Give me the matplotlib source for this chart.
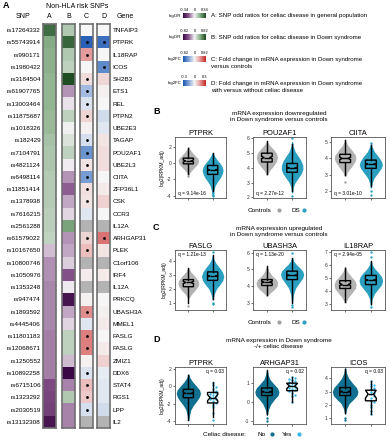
import numpy as np
import matplotlib
matplotlib.use("Agg")
import matplotlib.pyplot as plt
from matplotlib.colors import LinearSegmentedColormap

plt.rcParams["font.family"] = ["Liberation Sans", "DejaVu Sans"]

# ---------------- heatmap data (panel A) ----------------
snps = ["rs17264332", "rs55743914", "rs990171", "rs1980422", "rs3184504", "rs61907765",
        "rs13003464", "rs11875687", "rs1018326", "rs182429", "rs7104791", "rs4821124",
        "rs6498114", "rs11851414", "rs1378938", "rs7616215", "rs2561288", "rs61579022",
        "rs10167650", "rs10800746", "rs1050976", "rs1353248", "rs947474", "rs1893592",
        "rs4445406", "rs11801183", "rs12068671", "rs1250552", "rs10892258", "rs6715106",
        "rs1323292", "rs2030519", "rs13132308"]
genes = ["TNFAIP3", "PTPRK", "IL18RAP", "ICOS", "SH2B3", "ETS1", "REL", "PTPN2", "UBE2E3",
         "TAGAP", "POU2AF1", "UBE2L3", "CIITA", "ZFP36L1", "CSK", "CCR3", "IL12A", "ARHGAP31",
         "PLEK", "C1orf106", "IRF4", "IL12A", "PRKCQ", "UBASH3A", "MMEL1", "FASLG", "FASLG",
         "ZMIZ1", "DDX6", "STAT4", "RGS1", "LPP", "IL2"]
logor_general = [0.28, 0.17, 0.16, 0.16, 0.15, 0.15, 0.15, 0.14, 0.14, 0.12, 0.11, 0.11,
                 0.10, 0.10, 0.10, 0.09, 0.09, 0.08, -0.06, -0.11, -0.11, -0.12, -0.12, -0.12,
                 -0.12, -0.13, -0.13, -0.13, -0.13, -0.20, -0.21, -0.22, -0.31]
logor_ds = [0.25, 0.70, 0.25, 0.20, 0.80, -0.25, -0.05, 0.20, 0.02, 0.10, 0.20, -0.02,
            -0.25, -0.40, -0.20, -0.08, 0.45, -0.25, -0.20, -0.10, -0.45, -0.03, -0.75, -0.20,
            -0.08, 0.20, 0.20, -0.15, -0.82, -0.30, 0.25, -0.30, -0.30]
nan = float("nan")
fc_ds_vs_ctrl = [0.0, -0.75, 0.40, 0.0, 0.12, -0.30, -0.10, 0.15, 0.02, -0.12, -0.50, 0.08,
                 -0.45, 0.10, 0.08, -0.08, nan, 0.15, 0.25, nan, 0.05, nan, 0.03, 0.45,
                 -0.08, 0.50, 0.50, 0.02, -0.10, 0.25, 0.20, -0.12, nan]
fc_ds_celiac = [0.0, -0.25, 0.0, -0.20, 0.05, 0.01, 0.0, -0.05, -0.03, 0.03, 0.04, 0.04,
                0.0, 0.02, 0.06, 0.0, nan, 0.20, 0.03, nan, 0.02, nan, 0.0, 0.01,
                0.02, 0.0, 0.02, 0.06, -0.02, -0.03, -0.03, -0.05, nan]
sig_c = [1, 2, 4, 5, 6, 7, 9, 10, 11, 12, 13, 14, 17, 18, 23, 25, 26, 28, 29, 30, 31]
sig_d = [1, 3, 17]

# ---------------- violin/box data (panels B-D) ----------------
# cloud levels + half widths, box = (q1, med, q3, low, high, notch_lo, notch_hi), extra points
ptprk_ctrl = dict(y=[-1.5, -1.1, -0.7, -0.3, 0.0, 0.3, 0.6, 0.9, 1.3, 1.7, 2.0],
                  w=[0.02, 0.08, 0.20, 0.33, 0.40, 0.42, 0.38, 0.28, 0.16, 0.06, 0.02],
                  box=[-0.1, 0.25, 0.6, -1.3, 1.9, 0.12, 0.38], pts=[-1.6])
ptprk_ds = dict(y=[-4.0, -3.4, -2.8, -2.3, -1.8, -1.3, -0.9, -0.5, -0.1, 0.4, 0.9, 1.3],
                w=[0.02, 0.05, 0.10, 0.20, 0.32, 0.40, 0.43, 0.40, 0.32, 0.18, 0.07, 0.02],
                box=[-1.4, -0.85, -0.3, -3.4, 1.2, -0.93, -0.77], pts=[-3.7, -3.9, -4.05])
pou2af1_ctrl = dict(y=[3.5, 3.8, 4.1, 4.4, 4.7, 5.0, 5.3, 5.6, 5.8],
                    w=[0.02, 0.10, 0.25, 0.37, 0.42, 0.38, 0.24, 0.08, 0.02],
                    box=[4.4, 4.7, 5.0, 3.6, 5.8, 4.62, 4.78], pts=[])
pou2af1_ds = dict(y=[2.3, 2.7, 3.0, 3.3, 3.6, 3.9, 4.2, 4.5, 4.8, 5.1, 5.5, 5.8],
                  w=[0.02, 0.05, 0.12, 0.24, 0.36, 0.43, 0.42, 0.35, 0.24, 0.12, 0.04, 0.02],
                  box=[3.7, 4.0, 4.3, 2.4, 5.6, 3.96, 4.04], pts=[2.1, 6.0])
ciita_ctrl = dict(y=[2.9, 3.2, 3.5, 3.8, 4.0, 4.2, 4.5, 4.8, 5.1],
                  w=[0.02, 0.10, 0.25, 0.38, 0.42, 0.40, 0.26, 0.10, 0.02],
                  box=[3.75, 4.0, 4.25, 3.0, 5.1, 3.93, 4.07], pts=[2.6])
ciita_ds = dict(y=[2.2, 2.5, 2.8, 3.1, 3.4, 3.6, 3.8, 4.1, 4.4, 4.7, 4.9],
                w=[0.02, 0.05, 0.12, 0.26, 0.40, 0.45, 0.42, 0.30, 0.14, 0.05, 0.02],
                box=[3.4, 3.65, 3.9, 2.3, 4.8, 3.61, 3.69], pts=[2.0, 1.8, 4.95])
faslg_ctrl = dict(y=[1.3, 1.6, 1.9, 2.2, 2.4, 2.6, 2.9, 3.2, 3.5],
                  w=[0.02, 0.12, 0.28, 0.40, 0.43, 0.40, 0.26, 0.10, 0.02],
                  box=[2.15, 2.45, 2.65, 1.0, 3.5, 2.37, 2.53], pts=[0.8])
faslg_ds = dict(y=[1.2, 1.6, 2.0, 2.3, 2.6, 2.9, 3.2, 3.5, 3.8, 4.1, 4.4],
                w=[0.02, 0.06, 0.16, 0.30, 0.42, 0.46, 0.40, 0.28, 0.14, 0.05, 0.02],
                box=[2.6, 2.9, 3.2, 1.3, 4.4, 2.86, 2.94], pts=[1.0, 0.9, 4.6])
ubash3a_ctrl = dict(y=[3.4, 3.6, 3.8, 4.0, 4.2, 4.4, 4.6, 4.9, 5.2],
                    w=[0.02, 0.12, 0.28, 0.40, 0.43, 0.38, 0.22, 0.08, 0.02],
                    box=[4.05, 4.25, 4.4, 3.5, 5.2, 4.19, 4.31], pts=[])
ubash3a_ds = dict(y=[3.0, 3.5, 3.9, 4.2, 4.5, 4.7, 4.9, 5.1, 5.3, 5.5, 5.7],
                  w=[0.02, 0.05, 0.14, 0.28, 0.42, 0.46, 0.42, 0.30, 0.16, 0.06, 0.02],
                  box=[4.4, 4.65, 4.9, 3.0, 5.7, 4.62, 4.68], pts=[2.9, 2.8, 6.0])
il18rap_ctrl = dict(y=[3.1, 3.5, 3.9, 4.2, 4.5, 4.8, 5.1, 5.5, 5.9],
                    w=[0.02, 0.12, 0.28, 0.40, 0.43, 0.38, 0.24, 0.08, 0.02],
                    box=[4.2, 4.5, 4.8, 3.2, 5.8, 4.42, 4.58], pts=[])
il18rap_ds = dict(y=[2.9, 3.4, 3.8, 4.2, 4.5, 4.8, 5.1, 5.4, 5.7, 6.0, 6.3],
                  w=[0.02, 0.05, 0.14, 0.30, 0.42, 0.46, 0.42, 0.30, 0.16, 0.06, 0.02],
                  box=[4.5, 4.85, 5.2, 3.0, 6.3, 4.8, 4.9], pts=[2.8, 6.6, 7.0])
ptprk_no = dict(y=[-3.9, -3.3, -2.7, -2.2, -1.7, -1.2, -0.8, -0.4, 0.0, 0.5, 1.0, 1.4],
                w=[0.02, 0.05, 0.10, 0.20, 0.34, 0.46, 0.50, 0.46, 0.34, 0.18, 0.06, 0.02],
                box=[-1.3, -0.8, -0.35, -3.8, 1.3, -0.88, -0.72], pts=[])
ptprk_yes = dict(box=[-1.9, -1.3, -0.7, -3.5, 0.5, -1.65, -0.95],
                 pts=[0.4, 0.1, -0.1, -0.3, -0.5, -0.7, -0.8, -0.9, -1.0, -1.1, -1.2, -1.3,
                      -1.4, -1.5, -1.7, -1.9, -2.1, -2.4, -3.0, -3.8])
arhgap31_no = dict(y=[-0.7, -0.4, -0.1, 0.15, 0.35, 0.55, 0.75, 0.95, 1.2, 1.45, 1.7],
                   w=[0.02, 0.06, 0.16, 0.30, 0.44, 0.48, 0.42, 0.28, 0.12, 0.05, 0.02],
                   box=[0.35, 0.55, 0.75, -0.6, 1.7, 0.52, 0.58], pts=[-0.85, -1.0])
arhgap31_yes = dict(box=[0.6, 0.85, 1.0, 0.0, 1.3, 0.72, 0.98],
                    pts=[1.3, 1.25, 1.2, 1.15, 1.1, 1.05, 1.0, 0.95, 0.9, 0.85, 0.8, 0.75,
                         0.7, 0.65, 0.6, 0.5, 0.4, 0.3, 0.0])
icos_no = dict(y=[1.3, 1.7, 2.1, 2.4, 2.7, 3.0, 3.3, 3.6, 4.0, 4.4, 4.8],
               w=[0.02, 0.06, 0.16, 0.32, 0.46, 0.50, 0.44, 0.30, 0.14, 0.05, 0.02],
               box=[2.7, 3.0, 3.3, 1.4, 4.7, 2.95, 3.05], pts=[1.0, 0.85])
icos_yes = dict(box=[2.3, 2.8, 3.1, 1.3, 3.8, 2.5, 3.1],
                pts=[3.8, 3.6, 3.5, 3.4, 3.3, 3.2, 3.1, 3.0, 2.9, 2.8, 2.7, 2.5, 2.3, 2.2,
                     2.0, 1.8, 1.5, 1.3])

GRAY = "#a0a0a0"
DS = "#2a9fc0"
NO = "#11708f"
YES = "#36b7e8"

W, H = 390, 440
fig = plt.figure(figsize=(W / 100, H / 100), dpi=100)


def px_axes(x0, y0, w, h):
    return fig.add_axes([x0 / W, 1 - (y0 + h) / H, w / W, h / H])


def ftext(x, y, s, **kw):
    fig.text(x / W, 1 - y / H, s, **kw)


# ---------------- panel A heatmap ----------------
cmap_or = LinearSegmentedColormap.from_list(
    "or", ["#3a0844", "#8b5a8f", "#f6f4f6", "#86ad86", "#1c4a20"])
cmap_fc = LinearSegmentedColormap.from_list(
    "fc", ["#1a55b0", "#84a6d8", "#f7f7f7", "#e49a9a", "#c62828"])
cmap_or.set_bad("#b3b3b3")
cmap_fc.set_bad("#b3b3b3")

top, n = 24, len(snps)
row_h = 12.24
columns = [("A", 43, logor_general, cmap_or, 0.34, []),
           ("B", 62, logor_ds, cmap_or, 0.82, []),
           ("C", 80, fc_ds_vs_ctrl, cmap_fc, 0.82, sig_c),
           ("D", 97, fc_ds_celiac, cmap_fc, 0.3, sig_d)]
for i, (letter, x0, vals, cmap, lim, sig) in enumerate(columns):
    ax = px_axes(x0, top, 13, row_h * n)
    arr = np.ma.masked_invalid(np.array(vals, dtype=float)[:, None])
    ax.imshow(arr, cmap=cmap, vmin=-lim, vmax=lim, aspect="auto", interpolation="nearest")
    if sig:
        ax.plot(np.zeros(len(sig)), sig, "o", color="black", ms=1.0)
    ax.set_xlim(-0.5, 0.5)
    ax.set_ylim(n - 0.5, -0.5)
    ax.set_xticks([])
    ax.set_title(letter, fontsize=5, pad=4)
    for s in ax.spines.values():
        s.set_color("#707070")
        s.set_linewidth(1.2)
    if i == 0:
        ax.set_yticks(range(n))
        ax.set_yticklabels(snps, fontsize=4.6)
        ax.tick_params(axis="y", length=0, pad=1.6)
    elif i == 3:
        ax.yaxis.tick_right()
        ax.set_yticks(range(n))
        ax.set_yticklabels(genes, fontsize=4.6)
        ax.tick_params(axis="y", length=0, pad=1.8)
    else:
        ax.set_yticks([])

fig.text(0.008, 1 - 6 / H, "A", fontsize=6.5, fontweight="bold", va="center")
ftext(77, 6, "Non-HLA risk SNPs", fontsize=5, ha="center", va="center")
ftext(23, 17, "SNP", fontsize=5, ha="center", va="center")
ftext(125, 17, "Gene", fontsize=5, ha="center", va="center")

# ---------------- colour legends ----------------
legend_rows = [(15.5, "logOR", cmap_or, "-0.34", "0.34",
                ["A: SNP odd ratios for celiac disease in general population"]),
               (37, "logOR", cmap_or, "-0.82", "0.82",
                ["B: SNP odd ratios for celiac disease in Down syndrome"]),
               (59, "log2FC", cmap_fc, "-0.82", "0.82",
                ["C: Fold change in mRNA expression in Down syndrome", "versus controls"]),
               (83, "log2FC", cmap_fc, "-0.3", "0.3",
                ["D: Fold change in mRNA expression in Down syndrome",
                 "with versus without celiac disease"])]
for yc, lab, cmap, lo, hi, lines in legend_rows:
    cax = px_axes(183, yc - 2.7, 23, 5.4)
    cax.imshow(np.linspace(-1, 1, 64)[None, :], cmap=cmap, aspect="auto")
    cax.axis("off")
    ftext(181.5, yc, lab, fontsize=3.2, ha="right", va="center")
    ftext(184, yc - 5.5, lo, fontsize=2.9, ha="center", va="center")
    ftext(194.5, yc - 5.5, "0", fontsize=2.9, ha="center", va="center")
    ftext(205, yc - 5.5, hi, fontsize=2.9, ha="center", va="center")
    for k, line in enumerate(lines):
        ftext(211, yc + 7 * k, line, fontsize=4.45, ha="left", va="center")


# ---------------- panels B-D ----------------
def swarm(values, px_per_y, px_per_x, dot=2.6):
    placed, offs = [], []
    for v in values:
        yp = v * px_per_y
        k = 0
        while True:
            cands = [0.0] if k == 0 else [k * dot * 0.6, -k * dot * 0.6]
            ok = None
            for c in cands:
                if all((c - a) ** 2 + (yp - b) ** 2 >= dot ** 2 for a, b in placed):
                    ok = c
                    break
            if ok is not None:
                placed.append((ok, yp))
                offs.append(ok / px_per_x)
                break
            k += 1
    return np.array(offs)


def draw_group(ax, pos, grp, color, px_per_y, px_per_x, alpha=1.0):
    if "y" in grp:
        y = np.array(grp["y"])
        w = np.array(grp["w"])
        ax.fill_betweenx(y, pos - w, pos + w, color=color, alpha=alpha, lw=0, zorder=1)
    pts = grp["pts"]
    if pts:
        off = swarm(pts, px_per_y, px_per_x) if "y" not in grp else np.zeros(len(pts))
        ax.plot(pos + off, pts, "o", color=color, ms=1.7, mew=0, zorder=2)
    q1, med, q3, lo, hi, cil, cih = grp["box"]
    stats = [dict(med=med, q1=q1, q3=q3, whislo=lo, whishi=hi, cilo=cil, cihi=cih, fliers=[])]
    ax.bxp(stats, positions=[pos], widths=0.42, shownotches=True, showfliers=False,
           showcaps=False, patch_artist=True,
           boxprops=dict(facecolor="none", edgecolor="black", linewidth=1.0),
           medianprops=dict(color="black", linewidth=1.0),
           whiskerprops=dict(color="black", linewidth=1.0), zorder=3)


panels = [
    # x0, y0, w, h, title, ylim, yticks, left, right, colors, qtext, qloc
    (175, 137, 51, 61, "PTPRK", (-4.3, 3.2), [2, 0, -2, -4], ptprk_ctrl, ptprk_ds, (GRAY, DS), "q = 9.14e-16", "bl"),
    (253, 137, 53, 61, "POU2AF1", (1.95, 6.1), [6, 5, 4, 3, 2], pou2af1_ctrl, pou2af1_ds, (GRAY, DS), "q = 2.27e-12", "bl"),
    (331, 137, 54, 61, "CIITA", (1.6, 5.3), [5, 4, 3, 2], ciita_ctrl, ciita_ds, (GRAY, DS), "q = 3.01e-10", "bl"),
    (175, 250, 51, 60, "FASLG", (0.5, 4.75), [4, 3, 2, 1], faslg_ctrl, faslg_ds, (GRAY, DS), "q = 1.21e-13", "tl"),
    (253, 250, 53, 60, "UBASH3A", (2.6, 6.15), [6, 5, 4, 3], ubash3a_ctrl, ubash3a_ds, (GRAY, DS), "q = 1.13e-20", "tl"),
    (331, 250, 54, 60, "IL18RAP", (2.55, 7.15), [7, 6, 5, 4, 3], il18rap_ctrl, il18rap_ds, (GRAY, DS), "q = 2.94e-05", "tl"),
    (175, 367, 51, 57, "PTPRK", (-4.3, 2.2), [2, 0, -2, -4], ptprk_no, ptprk_yes, (NO, YES), "q = 0.03", "tr"),
    (253, 367, 53, 57, "ARHGAP31", (-1.15, 1.85), [1, 0, -1], arhgap31_no, arhgap31_yes, (NO, YES), "q = 0.02", "tr"),
    (331, 367, 54, 57, "ICOS", (0.55, 4.85), [4, 3, 2, 1], icos_no, icos_yes, (NO, YES), "q = 0.03", "tr"),
]

for j, (x0, y0, w, h, title, ylim, yt, left, right, cols, qtext, qloc) in enumerate(panels):
    ax = px_axes(x0, y0, w, h)
    ax.set_xlim(0.45, 2.55)
    ax.set_ylim(*ylim)
    ppy = h / (ylim[1] - ylim[0])
    ppx = w / 2.1
    draw_group(ax, 1, left, cols[0], ppy, ppx, alpha=0.8 if cols[0] == GRAY else 1.0)
    draw_group(ax, 2, right, cols[1], ppy, ppx)
    ax.set_xticks([1, 2])
    ax.set_xticklabels([])
    ax.set_yticks(yt)
    ax.set_yticklabels([str(t) for t in yt], fontsize=3.6)
    ax.tick_params(length=1.5, width=0.5, pad=1, colors="#333333")
    for s in ax.spines.values():
        s.set_color("#555555")
        s.set_linewidth(0.6)
    ax.set_title(title, fontsize=5.4, pad=1.5)
    if qloc == "bl":
        ax.text(0.05, 0.03, qtext, transform=ax.transAxes, fontsize=3.5, ha="left", va="bottom")
    elif qloc == "tl":
        ax.text(0.05, 0.97, qtext, transform=ax.transAxes, fontsize=3.5, ha="left", va="top")
    else:
        ax.text(0.96, 0.97, qtext, transform=ax.transAxes, fontsize=3.5, ha="right", va="top")
    if j % 3 == 0:
        ax.set_ylabel("log2(RPKM_adj)", fontsize=3.6, labelpad=1.5)

# panel letters and section titles
for letter, yl, lines in [("B", 112, "mRNA expression downregulated\nin Down syndrome versus controls"),
                          ("C", 227, "mRNA expression upregulated\nin Down syndrome versus controls"),
                          ("D", 339, "mRNA expression in Down syndrome\n-/+ celiac disease")]:
    ftext(153, yl, letter, fontsize=6.5, fontweight="bold", va="center")
    ftext(279, yl + 4.5, lines, fontsize=4.6, ha="center", va="center", linespacing=1.15)

# group legends
for yl in (210, 322):
    ftext(248, yl, "Controls", fontsize=4.6, va="center")
    fig.add_artist(plt.Line2D([279 / W], [1 - yl / H], marker="o", color=GRAY, ms=2, lw=0))
    ftext(292, yl, "DS", fontsize=4.6, va="center")
    fig.add_artist(plt.Line2D([304 / W], [1 - yl / H], marker="o", color=DS, ms=2, lw=0))
ftext(203, 434, "Celiac disease:", fontsize=4.6, va="center")
ftext(258, 434, "No", fontsize=4.6, va="center")
fig.add_artist(plt.Line2D([272 / W], [1 - 434 / H], marker="o", color=NO, ms=2, lw=0))
ftext(282, 434, "Yes", fontsize=4.6, va="center")
fig.add_artist(plt.Line2D([299 / W], [1 - 434 / H], marker="o", color=YES, ms=2, lw=0))

fig.savefig("out.png", dpi=100, facecolor="white")
